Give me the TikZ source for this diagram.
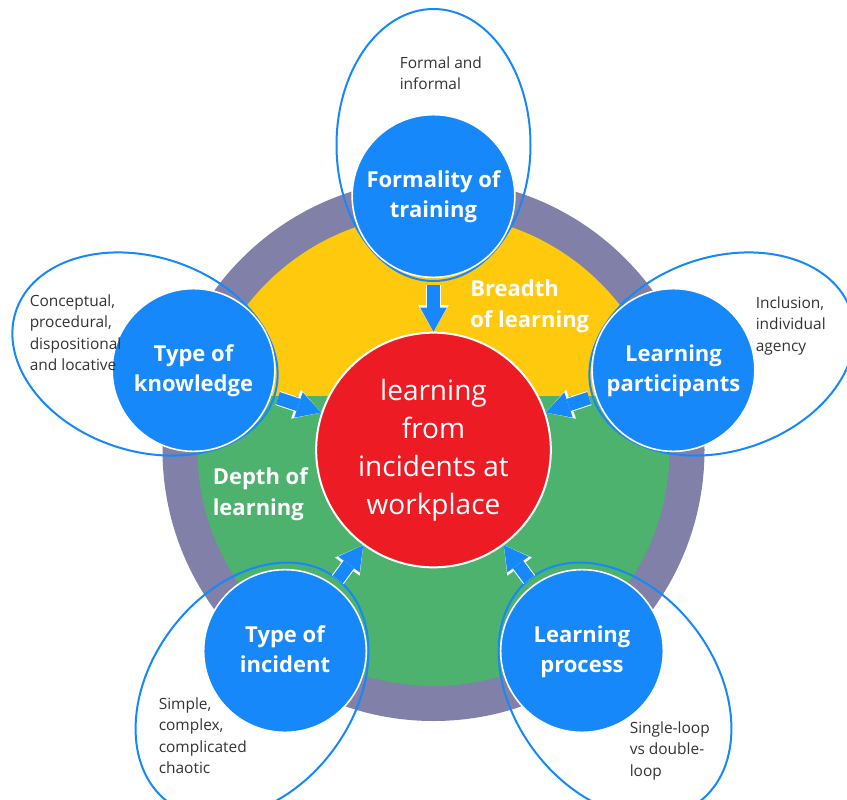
\documentclass[tikz,border=0pt]{standalone}
\usepackage{fontspec}
\setmainfont{Open Sans}
\usetikzlibrary{arrows.meta}
\definecolor{ringgrey}{RGB}{128,128,168}
\definecolor{breadthyellow}{RGB}{255,201,14}
\definecolor{depthgreen}{RGB}{76,178,110}
\definecolor{hubred}{RGB}{237,28,36}
\definecolor{factorblue}{RGB}{22,136,250}
\definecolor{notegrey}{RGB}{51,51,51}
\tikzset{
  factor/.style={circle,draw=white,line width=1.2pt,fill=factorblue,minimum size=122pt,inner sep=0pt,
    text=white,align=center,font=\fontsize{16.5}{22.5}\selectfont\bfseries,
    text height=38.25pt,text depth=6.75pt},
  note/.style={anchor=north west,inner sep=0pt,align=left,text=notegrey,font=\fontsize{11.6}{16.1}\selectfont},
  areatext/.style={anchor=north west,inner sep=0pt,align=left,text=white,font=\fontsize{16.5}{23}\selectfont\bfseries},
  halo/.style={draw=factorblue,line width=1.5pt},
  pointer/.style={draw=factorblue,line width=9.5pt,-{Triangle[width=20pt,length=18pt,line width=0pt]},shorten <=5pt,
    preaction={draw=white,line width=11pt,-{Triangle[width=23pt,length=20pt,line width=0pt]}}}
}
\begin{document}
\begin{tikzpicture}[x=0.75pt,y=-0.75pt]
\useasboundingbox (0,0) rectangle (847,800);
% wheel: grey rim, breadth (yellow) and depth (green)
\fill[ringgrey] (433.5,450) circle[radius=271];
\fill[depthgreen] (433.5,450) circle[radius=236];
\begin{scope}
\clip (433.5,450) circle[radius=236];
\fill[breadthyellow] (150,150) rectangle (720,396);
\end{scope}

% note bubbles
\draw[halo] (433.5,145) ellipse[x radius=97,y radius=136];
\draw[halo,rotate around={71.6:(145,354)}] (145,354) ellipse[x radius=97,y radius=136];
\draw[halo,rotate around={-71.6:(722,354)}] (722,354) ellipse[x radius=97,y radius=136];
\draw[halo,rotate around={-36.7:(252,690)}] (252,690) ellipse[x radius=101,y radius=140];
\draw[halo,rotate around={36.7:(615,690)}] (615,690) ellipse[x radius=101,y radius=140];

\node[circle,draw=white,line width=1.5pt,fill=hubred,minimum size=176pt,inner sep=0pt,text=white,align=center,
  font=\fontsize{21}{28.5}\selectfont] (hub) at (433.5,450) {learning\\from\\incidents at\\workplace};

\node[factor] (formality) at (433.5,196) {Formality of\\training};
\node[factor] (knowledge) at (193.5,370) {Type of\\knowledge};
\node[factor] (participants) at (673.5,370) {Learning\\participants};
\node[factor] (incident) at (285,651) {Type of\\incident};
\node[factor] (process) at (582,651) {Learning\\process};

\draw[pointer] (formality) -- (hub);
\draw[pointer] (knowledge) -- (hub);
\draw[pointer] (participants) -- (hub);
\draw[pointer] (incident) -- (hub);
\draw[pointer] (process) -- (hub);

\node[areatext] (breadth) at (470,279.5) {Breadth\\of learning};
\node[areatext] (depth) at (212.5,467.5) {Depth of\\learning};

\node[note] (formalnote) at (399.5,56.2) {Formal and\\informal};
\node[note] (knowledgenote) at (29.5,294.2) {Conceptual,\\procedural,\\dispositional\\and locative};
\node[note] (participantsnote) at (755.5,296.2) {Inclusion,\\individual\\agency};
\node[note] (incidentnote) at (158.5,697.2) {Simple,\\complex,\\complicated\\chaotic};
\node[note] (processnote) at (629.5,721.2) {Single-loop\\vs double-\\loop};
\end{tikzpicture}
\end{document}
